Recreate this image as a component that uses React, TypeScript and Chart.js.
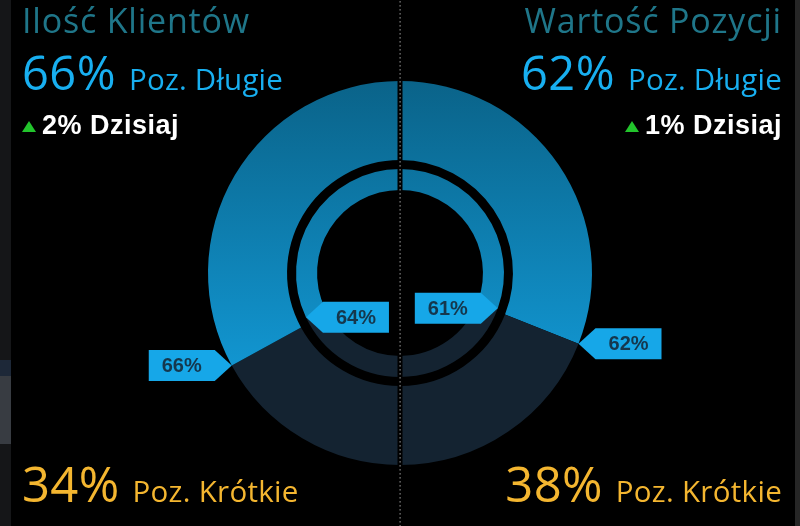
import React, { useEffect, useRef } from "react";
import { Chart, registerables } from "chart.js";

Chart.register(...registerables);

// Clockwise from the top: right half (Wartość Pozycji) long, short; left half (Ilość Klientów) short, long
const segmentLabels = ["Wartość – Poz. Długie", "Wartość – Poz. Krótkie", "Klienci – Poz. Krótkie", "Klienci – Poz. Długie"];
const outerValues = [62, 38, 34, 66];
const innerValues = [61, 39, 36, 64];
const spacerValues = [1];

const titles = ["Ilość Klientów", "Wartość Pozycji"];
const longPercent = [66, 62];
const shortPercent = [34, 38];
const dailyChange = [2, 1];
const longText = "Poz. Długie";
const shortText = "Poz. Krótkie";
const todayText = "Dzisiaj";

const DARK = "#142331";
const CALLOUT = "#16a7e8";

function blueGradient(chart: any) {
  const { ctx, chartArea } = chart;
  if (!chartArea) return "#0e86bb";
  const g = ctx.createLinearGradient(0, chartArea.top, 0, chartArea.top + chartArea.height * 0.78);
  g.addColorStop(0, "#0a6389");
  g.addColorStop(1, "#1298d4");
  return g;
}

const calloutPlugin = {
  id: "callouts",
  afterDatasetsDraw(chart: any) {
    const ctx = chart.ctx;
    const rings = [
      { ds: 0, outward: true },
      { ds: 2, outward: false },
    ];
    const arrowLen = 17;
    const bodyW = 66;
    const boxH = 31;
    ctx.save();
    for (const ring of rings) {
      const meta = chart.getDatasetMeta(ring.ds);
      const data = chart.data.datasets[ring.ds].data;
      const items = [
        { idx: 0, edge: "end" },
        { idx: data.length - 1, edge: "start" },
      ];
      for (const it of items) {
        const arc = meta.data[it.idx];
        const p = arc.getProps(["x", "y", "startAngle", "endAngle", "outerRadius"], true);
        const ang = it.edge === "end" ? p.endAngle : p.startAngle;
        const tipX = p.x + Math.cos(ang) * p.outerRadius;
        const tipY = p.y + Math.sin(ang) * p.outerRadius;
        const leftSide = Math.cos(ang) < 0;
        const dir = ring.outward ? (leftSide ? -1 : 1) : leftSide ? 1 : -1;
        const near = tipX + dir * arrowLen;
        const far = tipX + dir * (arrowLen + bodyW);
        ctx.beginPath();
        ctx.moveTo(tipX, tipY);
        ctx.lineTo(near, tipY - boxH / 2);
        ctx.lineTo(far, tipY - boxH / 2);
        ctx.lineTo(far, tipY + boxH / 2);
        ctx.lineTo(near, tipY + boxH / 2);
        ctx.closePath();
        ctx.fillStyle = CALLOUT;
        ctx.fill();
        ctx.fillStyle = "#15374d";
        ctx.font = "bold 20px 'Liberation Sans', Arial, sans-serif";
        ctx.textAlign = "center";
        ctx.textBaseline = "middle";
        ctx.fillText(data[it.idx] + "%", (near + far) / 2, tipY + 1);
      }
    }
    ctx.restore();
  },
  afterDraw(chart: any) {
    const ctx = chart.ctx;
    const meta = chart.getDatasetMeta(0);
    const cx = meta.data[0].x;
    const h = chart.height;
    ctx.save();
    ctx.fillStyle = "#000";
    ctx.fillRect(cx - 2.5, 0, 5, h);
    ctx.fillStyle = "#7d7d7d";
    for (let y = 1; y < h; y += 4) ctx.fillRect(cx - 0.5, y, 1.2, 1.6);
    ctx.restore();
  },
};

export default function App() {
  const ref = useRef<HTMLCanvasElement | null>(null);

  useEffect(() => {
    if (!ref.current) return;
    const segColor = (ctx: any) => {
      const i = ctx.dataIndex;
      return i === 0 || i === 3 ? blueGradient(ctx.chart) : DARK;
    };
    const chart = new Chart(ref.current, {
      type: "doughnut",
      data: {
        labels: segmentLabels,
        datasets: [
          { data: outerValues, backgroundColor: segColor, borderWidth: 0, weight: 79 } as any,
          { data: spacerValues, backgroundColor: "rgba(0,0,0,0)", borderWidth: 0, weight: 9 } as any,
          { data: innerValues, backgroundColor: segColor, borderWidth: 0, weight: 21 } as any,
        ],
      },
      options: {
        responsive: false,
        animation: false,
        cutout: "43.2%",
        layout: { padding: { top: 81, bottom: 61, left: 0, right: 0 } },
        plugins: { legend: { display: false }, tooltip: { enabled: false } },
      },
      plugins: [calloutPlugin],
    });
    return () => chart.destroy();
  }, []);

  const head: React.CSSProperties = {
    position: "absolute",
    fontFamily: "'Open Sans', sans-serif",
    fontWeight: 500,
    lineHeight: 1,
    letterSpacing: 0.8,
    whiteSpace: "nowrap",
  };
  const row = (side: "left" | "right", top: number): React.CSSProperties => ({
    position: "absolute",
    top,
    [side]: side === "left" ? 22 : 18,
    display: "flex",
    alignItems: "baseline",
    gap: 13,
    fontFamily: "'Open Sans', sans-serif",
    lineHeight: 1,
    whiteSpace: "nowrap",
  });
  const big = (color: string, size: number, ls = 0): React.CSSProperties => ({ color, fontSize: size, lineHeight: 1, letterSpacing: ls });
  const today = (side: "left" | "right"): React.CSSProperties => ({
    position: "absolute",
    top: 112,
    [side]: side === "left" ? 22 : 18,
    display: "flex",
    alignItems: "center",
    gap: 6,
    color: "#fff",
    fontFamily: "'Liberation Sans', Arial, sans-serif",
    fontWeight: "bold",
    fontSize: 27,
    letterSpacing: 0.5,
    lineHeight: 1,
    whiteSpace: "nowrap",
  });
  const tri: React.CSSProperties = {
    width: 0,
    height: 0,
    borderLeft: "7.5px solid transparent",
    borderRight: "7.5px solid transparent",
    borderBottom: "11px solid #22c42c",
    marginTop: 2,
  };

  return (
    <div style={{ position: "fixed", left: 0, top: 0, width: 800, height: 526, background: "#000", overflow: "hidden" }}>
      <canvas ref={ref} width={800} height={526} style={{ position: "absolute", left: 0, top: 0, width: 800, height: 526 }} />
      <div style={{ position: "absolute", left: 0, top: 0, width: 11, height: 526, background: "#151618" }} />
      <div style={{ position: "absolute", left: 0, top: 360, width: 11, height: 16, background: "#1d2838" }} />
      <div style={{ position: "absolute", left: 0, top: 376, width: 11, height: 68, background: "#383c42" }} />
      <div style={{ position: "absolute", right: 0, top: 0, width: 5, height: 526, background: "#262626" }} />

      <div style={{ ...head, left: 22, top: 3, fontSize: 34, color: "#1f7689" }}>{titles[0]}</div>
      <div style={{ ...head, right: 18, top: 3, fontSize: 34, color: "#1f7689" }}>{titles[1]}</div>

      <div style={row("left", 49)}>
        <span style={big("#18aff0", 47, 0.5)}>{longPercent[0]}%</span>
        <span style={big("#18aff0", 29.5, 0.2)}>{longText}</span>
      </div>
      <div style={row("right", 49)}>
        <span style={big("#18aff0", 47, 0.5)}>{longPercent[1]}%</span>
        <span style={big("#18aff0", 29.5, 0.2)}>{longText}</span>
      </div>

      <div style={today("left")}>
        <div style={tri} />
        <span>{dailyChange[0]}% {todayText}</span>
      </div>
      <div style={today("right")}>
        <div style={tri} />
        <span>{dailyChange[1]}% {todayText}</span>
      </div>

      <div style={row("left", 459)}>
        <span style={big("#f4b630", 49, 0.3)}>{shortPercent[0]}%</span>
        <span style={big("#f4b630", 29.5, 0.3)}>{shortText}</span>
      </div>
      <div style={row("right", 459)}>
        <span style={big("#f4b630", 49, 0.3)}>{shortPercent[1]}%</span>
        <span style={big("#f4b630", 29.5, 0.3)}>{shortText}</span>
      </div>
    </div>
  );
}
